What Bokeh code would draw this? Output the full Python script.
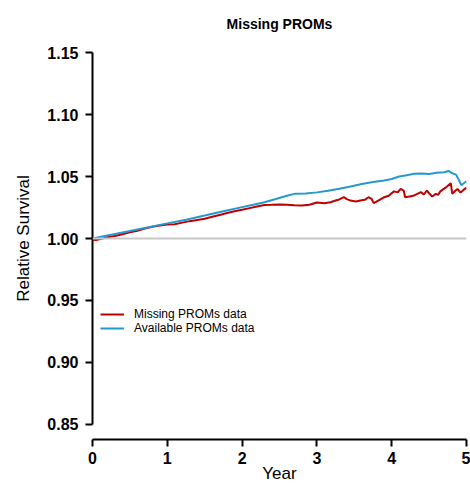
from bokeh.plotting import figure
from bokeh.models import Range1d, FixedTicker, Span, Legend, LegendItem, CustomJSTickFormatter
from bokeh.embed import file_html
from bokeh.resources import INLINE

title_text = "Missing PROMs"
x_label = "Year"
y_label = "Relative Survival"
y_ticks = [0.85, 0.90, 0.95, 1.00, 1.05, 1.10, 1.15]
x_ticks = [0, 1, 2, 3, 4, 5]

missing_year = [0, 0.05, 0.1, 0.2, 0.3, 0.4, 0.5, 0.6, 0.7, 0.8, 0.9, 1.0, 1.1, 1.2, 1.3, 1.4,
                1.5, 1.6, 1.7, 1.8, 1.9, 2.0, 2.1, 2.2, 2.3, 2.4, 2.5, 2.6, 2.7, 2.8, 2.9,
                3.0, 3.1, 3.18, 3.25, 3.3, 3.36, 3.4, 3.45, 3.52, 3.58, 3.64, 3.69, 3.73, 3.76,
                3.82, 3.9, 3.96, 4.03, 4.08, 4.12, 4.16, 4.18, 4.24, 4.3, 4.35, 4.39, 4.43,
                4.47, 4.5, 4.54, 4.59, 4.62, 4.65, 4.72, 4.79, 4.81, 4.85, 4.88, 4.92, 4.96, 5.0]
missing_rs = [0.999, 0.9988, 0.9995, 1.001, 1.002, 1.0035, 1.005, 1.0062, 1.008, 1.0095, 1.0105,
              1.0112, 1.0115, 1.0128, 1.014, 1.015, 1.016, 1.0175, 1.019, 1.0205, 1.022,
              1.0232, 1.0245, 1.0258, 1.027, 1.0272, 1.0275, 1.0272, 1.0268, 1.0266, 1.0272,
              1.029, 1.0285, 1.0292, 1.0306, 1.0315, 1.0333, 1.0318, 1.0306, 1.0298, 1.0306,
              1.0312, 1.0333, 1.032, 1.0285, 1.0305, 1.0333, 1.0345, 1.038, 1.0372, 1.040,
              1.0387, 1.0333, 1.0338, 1.0347, 1.0362, 1.0374, 1.0355, 1.0387, 1.0365, 1.0339,
              1.036, 1.0352, 1.038, 1.041, 1.0446, 1.036, 1.0385, 1.040, 1.037, 1.0392, 1.041]

avail_year = [0, 0.25, 0.5, 0.75, 1.0, 1.25, 1.5, 1.75, 2.0, 2.15, 2.3, 2.45, 2.6, 2.7, 2.85,
              3.0, 3.15, 3.3, 3.45, 3.6, 3.75, 3.9, 4.0, 4.1, 4.2, 4.3, 4.4, 4.5, 4.6, 4.7,
              4.76, 4.8, 4.86, 4.9, 4.93, 5.0]
avail_rs = [1.000, 1.003, 1.006, 1.009, 1.0122, 1.0152, 1.0185, 1.022, 1.0253, 1.0272, 1.0292,
            1.0318, 1.0345, 1.0360, 1.0362, 1.0372, 1.0385, 1.0402, 1.0420, 1.0440, 1.0455,
            1.0468, 1.0480, 1.0500, 1.0510, 1.0522, 1.0525, 1.0520, 1.0530, 1.0535, 1.0545,
            1.0528, 1.0515, 1.0470, 1.0430, 1.0462]

series_names = ["Missing PROMs data", "Available PROMs data"]
RED = "#C00000"
BLUE = "#2598CF"
FONT = "Liberation Sans"

p = figure(width=470, height=486, x_range=Range1d(0, 5), y_range=Range1d(0.8379, 1.1621),
           output_backend="svg", toolbar_location=None,
           min_border_left=92, min_border_right=4, min_border_top=37, min_border_bottom=47)
p.outline_line_color = None
p.xgrid.visible = False
p.ygrid.visible = False
p.background_fill_color = "white"

p.title.text = title_text
p.title.align = "center"
p.title.text_font = FONT
p.title.text_font_style = "bold"
p.title.text_font_size = "14px"
p.title.text_color = "black"
p.title.standoff = 11

ref = Span(location=1.0, dimension="width", line_color="#c8c8c8", line_width=2)
p.add_layout(ref)

r_red = p.line(missing_year, missing_rs, line_color=RED, line_width=2)
r_blue = p.line(avail_year, avail_rs, line_color=BLUE, line_width=2)

for ax in (p.xaxis[0], p.yaxis[0]):
    ax.axis_line_width = 2
    ax.major_tick_line_width = 2
    ax.major_tick_out = 7
    ax.major_tick_in = 0
    ax.minor_tick_line_color = None
    ax.major_label_text_font = FONT
    ax.major_label_text_font_style = "bold"
    ax.major_label_text_font_size = "16px"
    ax.major_label_text_color = "black"
    ax.axis_line_color = "black"
    ax.major_tick_line_color = "black"
    ax.axis_label_text_font = FONT
    ax.axis_label_text_font_style = "normal"
    ax.axis_label_text_font_size = "17px"
    ax.axis_label_text_color = "black"

p.yaxis[0].ticker = FixedTicker(ticks=y_ticks)
p.yaxis[0].bounds = (0.85, 1.15)
p.yaxis[0].formatter = CustomJSTickFormatter(code="return tick.toFixed(2);")
p.yaxis[0].major_label_standoff = 7
p.yaxis[0].axis_label = y_label
p.yaxis[0].axis_label_standoff = 11

p.xaxis[0].ticker = FixedTicker(ticks=x_ticks)
p.xaxis[0].bounds = (0, 5)
p.xaxis[0].major_label_standoff = 5
p.xaxis[0].axis_label = x_label
p.xaxis[0].axis_label_standoff = -3

legend = Legend(items=[LegendItem(label=series_names[0], renderers=[r_red]),
                       LegendItem(label=series_names[1], renderers=[r_blue])],
                location=(8, 104), border_line_color=None, background_fill_alpha=0,
                padding=0, margin=0, spacing=0, glyph_width=24, glyph_height=12,
                label_height=12, label_standoff=10, label_text_font=FONT,
                label_text_font_size="12px", label_text_color="black")
p.add_layout(legend, "center")

open("out.html", "w").write(file_html(p, INLINE))
